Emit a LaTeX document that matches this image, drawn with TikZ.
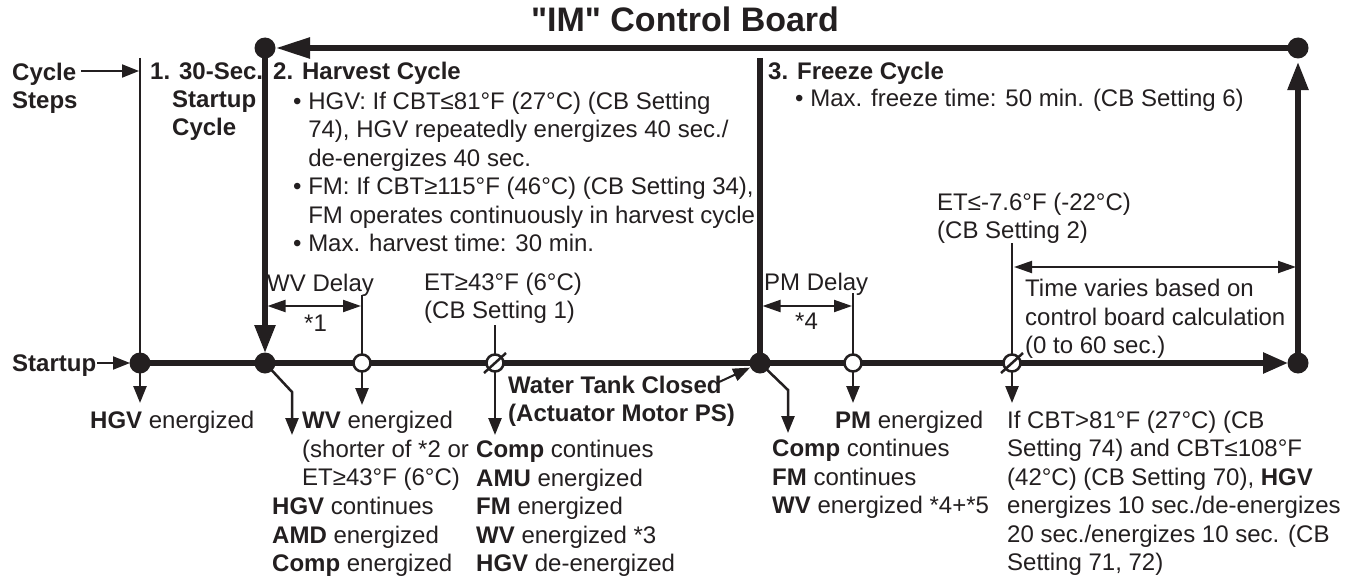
\documentclass[tikz,border=0pt]{standalone}
\usepackage{fontspec}
\setmainfont{Liberation Sans}[Ligatures=TeXOff]
\usetikzlibrary{arrows.meta}
\definecolor{ink}{RGB}{35,31,32}
\begin{document}
\begin{tikzpicture}[x=1pt,y=-1pt,
 thk/.style={line width=5.5pt,draw=ink},
 thn/.style={line width=2.5pt,draw=ink},
 bigtip/.style={-{Triangle[length=28pt,width=20pt]}},
 smalltip/.style={-{Triangle[length=17pt,width=13pt]}},
 dbltip/.style={{Triangle[length=18pt,width=12pt]}-{Triangle[length=18pt,width=12pt]}},
 txt/.style={anchor=base west,inner sep=0pt,text=ink,align=left,font=\fontsize{24pt}{28.5pt}\selectfont},
 btxt/.style={txt,font=\fontsize{24pt}{28.5pt}\selectfont\bfseries},
 dot/.style={circle,fill=ink,minimum size=21pt,inner sep=0pt},
 hollow/.style={circle,draw=ink,fill=white,line width=2.5pt,minimum size=17pt,inner sep=0pt},
]
\useasboundingbox[fill=white] (0,0) rectangle (1356,578);

% points on the time line
\coordinate (S) at (140,363);
\coordinate (H) at (265,363);
\coordinate (W) at (362,363);
\coordinate (E1) at (495,363);
\coordinate (F) at (760,363);
\coordinate (P) at (853,363);
\coordinate (E2) at (1012,363);
\coordinate (X) at (1298,363);
\coordinate (TL) at (265,48);
\coordinate (TR) at (1298,48);
\coordinate (Stop) at (140,58);
\coordinate (Ftop) at (760,58);

% thick main structure
\draw[thk,-{Triangle[length=25pt,width=20pt]},shorten >=10pt] (S) -- (X);
\draw[thk,-{Triangle[length=34pt,width=20pt]},shorten >=11pt] (TR) -- (TL);
\draw[thk,bigtip,shorten >=10pt] (TL) -- (H);
\draw[thk,bigtip,shorten >=14pt] (X) -- (TR);
\draw[thk] (Ftop) -- (F);

% thin verticals and down arrows
\coordinate (Sd) at (140,403);
\draw[thn,smalltip] (Stop) -- (Sd);
\coordinate (Hk) at (292,392);
\coordinate (Hd) at (292,435);
\draw[thn,smalltip] (H) -- (Hk) -- (Hd);
\coordinate (Wt) at (362,295);
\coordinate (Wd) at (362,405);
\draw[thn,smalltip] (Wt) -- (Wd);
\coordinate (E1t) at (495,325);
\coordinate (E1d) at (495,435);
\draw[thn,smalltip] (E1t) -- (E1d);
\coordinate (Fk) at (788,390);
\coordinate (Fd) at (788,433);
\draw[thn,smalltip] (F) -- (Fk) -- (Fd);
\coordinate (Pt) at (853,293);
\coordinate (Pd) at (853,403);
\draw[thn,smalltip] (Pt) -- (Pd);
\coordinate (E2t) at (1012,243);
\coordinate (E2d) at (1012,403);
\draw[thn,smalltip] (E2t) -- (E2d);

% dimension arrows
\coordinate (wd1) at (267.5,306);
\coordinate (wd2) at (361,306);
\draw[thn,line width=2pt,dbltip] (wd1) -- (wd2);
\coordinate (pd1) at (762.5,306);
\coordinate (pd2) at (852,306);
\draw[thn,line width=2pt,dbltip] (pd1) -- (pd2);
\coordinate (td1) at (1014,267);
\coordinate (td2) at (1296,267);
\draw[thn,line width=2pt,dbltip] (td1) -- (td2);

% side arrows
\coordinate (ca) at (81,71);
\coordinate (cb) at (139,71);
\draw[thn,line width=2pt,smalltip] (ca) -- (cb);
\coordinate (sa) at (97,363);
\draw[thn,line width=2pt,smalltip,shorten >=10pt] (sa) -- (S);
\coordinate (wa) at (717,383);
\draw[thn,line width=2pt,smalltip,shorten >=11pt] (wa) -- (F);

% markers
\node[dot] (nS) at (S) {};
\node[dot] (nH) at (H) {};
\node[dot] (nF) at (F) {};
\node[dot] (nX) at (X) {};
\node[dot] (nTL) at (TL) {};
\node[dot] (nTR) at (TR) {};
\node[hollow] (nW) at (W) {};
\node[hollow] (nP) at (P) {};
\node[hollow] (nE1) at (E1) {};
\draw[thn] ([shift={(-11,10)}]E1) -- ([shift={(11,-10)}]E1);
\node[hollow] (nE2) at (E2) {};
\draw[thn] ([shift={(-11,10)}]E2) -- ([shift={(11,-10)}]E2);

% texts (anchored at the baseline of their last line)
\node[anchor=base,inner sep=0pt,text=ink,font=\fontsize{34pt}{40pt}\selectfont\bfseries] (title) at (685,32) {"IM" Control Board};
\node[btxt] (cyc) at (12,108.6) {Cycle\\Steps};
\node[btxt] (c1a) at (150,79.6) {1. 30-Sec.};
\node[btxt] (c1b) at (172,135.6) {Startup\\Cycle};
\node[btxt] (c2) at (273,79.6) {2. Harvest Cycle};
\node[txt] (c2b) at (293,251.6) {• HGV: If CBT≤81°F (27°C) (CB Setting\\
\hphantom{• }74), HGV repeatedly energizes 40 sec./\\
\hphantom{• }de-energizes 40 sec.\\
• FM: If CBT≥115°F (46°C) (CB Setting 34),\\
\hphantom{• }FM operates continuously in harvest cycle\\
• Max. harvest time: 30 min.};
\node[btxt] (c3) at (768,79.6) {3. Freeze Cycle};
\node[txt] (c3b) at (795,106.6) {• Max. freeze time: 50 min. (CB Setting 6)};

\node[txt] (wvd) at (267,291.6) {WV Delay};
\node[txt] (s1) at (304,331) {*1};
\node[txt] (et1) at (424,318.6) {ET≥43°F (6°C)\\(CB Setting 1)};
\node[txt] (pmd) at (764,290.6) {PM Delay};
\node[txt] (s4) at (795,329) {*4};
\node[txt] (et2) at (937,238.6) {ET≤-7.6°F (-22°C)\\(CB Setting 2)};
\node[txt] (tv) at (1025,353.6) {Time varies based on\\control board calculation\\(0 to 60 sec.)};

\node[btxt] (su) at (12,371.6) {Startup};
\node[txt] (hgv) at (90,428.6) {\textbf{HGV} energized};
\node[txt] (wv) at (302,485.6) {\textbf{WV} energized\\(shorter of *2 or\\ET≥43°F (6°C)};
\node[txt] (hc) at (272,571.6) {\textbf{HGV} continues\\\textbf{AMD} energized\\\textbf{Comp} energized};
\node[btxt] (wt) at (508,421.6) {Water Tank Closed\\(Actuator Motor PS)};
\node[txt] (cc) at (476,571.6) {\textbf{Comp} continues\\\textbf{AMU} energized\\\textbf{FM} energized\\\textbf{WV} energized *3\\\textbf{HGV} de-energized};
\node[txt] (pm) at (835,428.6) {\textbf{PM} energized};
\node[txt] (fc) at (772,513.6) {\textbf{Comp} continues\\\textbf{FM} continues\\\textbf{WV} energized *4+*5};
\node[txt] (cbt) at (1007,570.6) {If CBT>81°F (27°C) (CB\\Setting 74) and CBT≤108°F\\(42°C) (CB Setting 70), \textbf{HGV}\\energizes 10 sec./de-energizes\\20 sec./energizes 10 sec. (CB\\Setting 71, 72)};
\end{tikzpicture}
\end{document}
